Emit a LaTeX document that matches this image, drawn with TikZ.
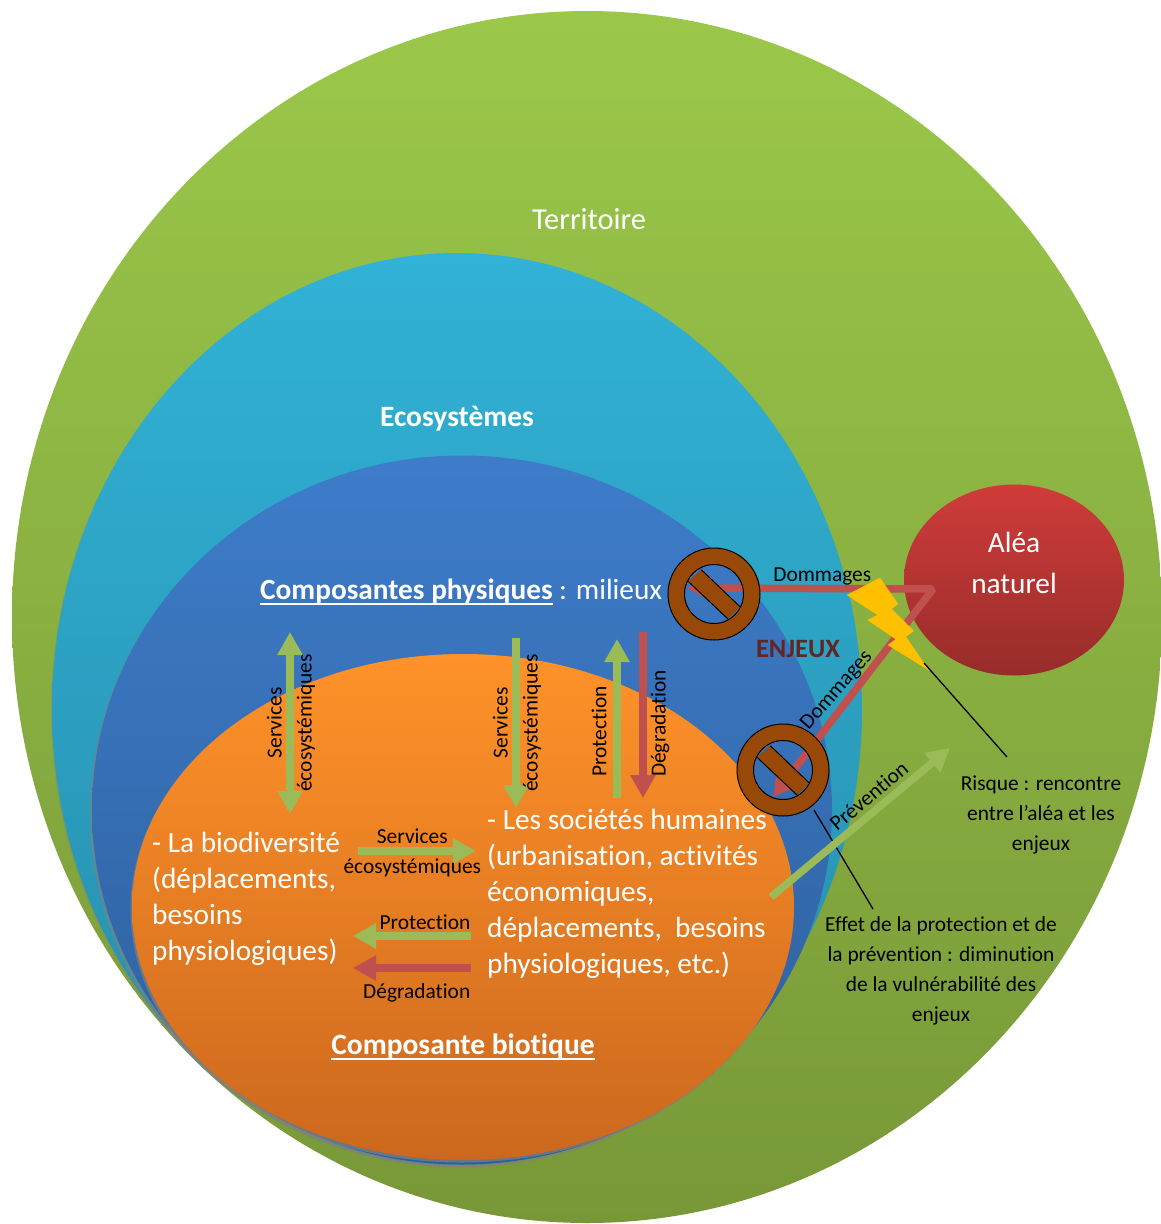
\documentclass[tikz,border=0pt]{standalone}
\usepackage{fontspec}
\setmainfont{Carlito}[Ligatures=CommonOff]
\usetikzlibrary{arrows.meta,shapes.geometric,shadows}
\definecolor{flechevert}{HTML}{9BBB59}
\definecolor{flecherouge}{HTML}{C0504D}
\definecolor{signebrun}{HTML}{984807}
\definecolor{eclair}{HTML}{FFC000}
\definecolor{titreenjeux}{HTML}{632523}
\definecolor{terrehaut}{RGB}{155,200,74}
\definecolor{terrebas}{RGB}{120,152,56}
\definecolor{ecohaut}{RGB}{49,178,214}
\definecolor{ecobas}{RGB}{38,140,170}
\definecolor{physhaut}{RGB}{62,124,202}
\definecolor{physbas}{RGB}{45,95,155}
\definecolor{biohaut}{RGB}{255,146,41}
\definecolor{biobas}{RGB}{204,104,30}
\definecolor{aleahaut}{RGB}{208,60,58}
\definecolor{aleabas}{RGB}{150,44,42}
\newcommand{\souligne}[1]{\setbox0\hbox{#1}\rlap{\rule[-5.5pt]{\wd0}{2.4pt}}\box0}
\tikzset{
bulle/.style={ellipse,inner sep=0pt,minimum width=2*#1},
grand/.style={text=white,inner sep=0pt,font=\fontsize{29.3}{36}\selectfont},
gras/.style={text=white,inner sep=0pt,font=\fontsize{29.5}{36}\selectfont\bfseries},
petit/.style={text=black,inner sep=0pt,align=center,font=\fontsize{21.4}{30}\selectfont},
vert/.style={draw=flechevert,line width=7.5pt},
rouge/.style={draw=flecherouge,line width=7.5pt},
interdit/.pic={
\fill[signebrun,draw=black,line width=1pt,even odd rule](0,0)circle(46)(0,0)circle(29.5);
\fill[signebrun](-26,-12.7)--(14,25)--(26.3,13)--(-12.7,-24.3)--cycle;
\draw[black,line width=1pt](-26,-12.7)--(14,25)(-12.7,-24.3)--(26.3,13);
}
}
\begin{document}
\begin{tikzpicture}[x=1pt,y=-1pt,>={Triangle[length=23pt,width=24pt]}]
\useasboundingbox (0,0) rectangle (1161,1224);
\node[bulle=575,minimum height=1212,top color=terrehaut,bottom color=terrebas] (territoire) at (587,617) {};
\node[bulle=405,minimum height=912,top color=ecohaut,bottom color=ecobas,drop shadow={shadow xshift=-1pt,shadow yshift=-2pt,opacity=.3}] (ecosystemes) at (457,709) {};
\node[bulle=370,minimum height=709,top color=physhaut,bottom color=physbas,drop shadow={shadow xshift=-2pt,shadow yshift=-3pt,opacity=.6}] (physique) at (462,810) {};
\node[bulle=331,minimum height=506,top color=biohaut,bottom color=biobas,drop shadow={shadow xshift=-1.5pt,shadow yshift=-2.5pt,opacity=.7}] (biotique) at (463,907) {};
\node[bulle=110,minimum height=191,top color=aleahaut,bottom color=aleabas] (alea) at (1014,580) {};
\coordinate (sa) at (290,632);
\coordinate (sb) at (290,814);
\coordinate (sc) at (516,638);
\coordinate (sd) at (516,808);
\coordinate (pa) at (617,798);
\coordinate (pb) at (617,639);
\coordinate (da) at (643,632);
\coordinate (db) at (643,798);
\coordinate (se) at (358,851);
\coordinate (sf) at (476,851);
\coordinate (pc) at (471,936);
\coordinate (pd) at (353,936);
\coordinate (dc) at (471,968);
\coordinate (dd) at (353,968);
\coordinate (dm) at (687,588);
\coordinate (dn) at (933,589);
\coordinate (dp) at (773,797);
\coordinate (pv) at (771,897);
\coordinate (pw) at (950,748);
\coordinate (ra) at (924,663);
\coordinate (rb) at (1007,757);
\coordinate (ea) at (814,810);
\coordinate (eb) at (873,909);
\draw[<->,vert](sa)--(sb)node[petit,pos=0.5,xshift=1pt,rotate=90]{Services\\écosystémiques};
\draw[->,vert](sc)--(sd)node[petit,pos=0.5,xshift=1pt,rotate=90]{Services\\écosystémiques};
\draw[->,vert](pa)--(pb)node[petit,pos=0.42,xshift=-18pt,rotate=90]{Protection};
\draw[->,rouge](da)--(db)node[petit,pos=0.55,xshift=17pt,rotate=90]{Dégradation};
\draw[->,vert](se)--(sf)node[petit,pos=0.46,yshift=-2pt]{Services\\écosystémiques};
\draw[->,vert](pc)--(pd)node[petit,pos=0.39,yshift=14pt]{Protection};
\draw[->,rouge](dc)--(dd)node[petit,pos=0.46,yshift=-25pt]{Dégradation};
\draw[black,line width=1.3pt](ea)--(eb);
\draw[->,vert](pv)--(pw)node[petit,pos=0.6,above=4pt,sloped]{Prévention};
\draw[<->,rouge,line join=bevel](dm)--node[petit,pos=0.55,above=0pt]{Dommages}(dn)--node[petit,pos=0.5,xshift=-16pt,yshift=2.4pt,rotate=49]{Dommages}(dp);
\pic at (714,594) {interdit};
\pic at (783,770) {interdit};
\fill[eclair](846.7,595)--(880,577.7)--(898.3,604)--(891.7,608.7)--(914,631)--(906,636.7)--(929.3,670.7)--(887.7,645)--(895.7,639.3)--(867.3,620)--(877.3,615)--cycle;
\draw[black,line width=1.3pt](ra)--(rb);
\node[grand,font=\fontsize{30.5}{36}\selectfont] (ltitre) at (589,219) {Territoire};
\node[gras] (letitre) at (457,419) {Ecosystèmes};
\node[grand,anchor=west] (lphysique) at (260,592) {\textbf{\souligne{Composantes physiques}} : milieux};
\node[gras] (lbiotique) at (463,1047) {\souligne{Composante biotique}};
\node[grand,anchor=west,align=left] (lbiodiv) at (152,899) {- La biodiversité\\(déplacements,\\besoins\\physiologiques)};
\node[grand,anchor=west,align=left] (lsociete) at (487,894) {- Les sociétés humaines\\(urbanisation, activités\\économiques,\\déplacements,\ \ besoins\\physiologiques, etc.)};
\node[grand,align=center,font=\fontsize{29.3}{41}\selectfont] (lalea) at (1014,563) {Aléa\\naturel};
\node[inner sep=0pt,text=titreenjeux,font=\fontsize{26.5}{30}\selectfont\bfseries] (lenjeux) at (798,649) {ENJEUX};
\node[petit] (lrisque) at (1041,815) {Risque : rencontre\\entre l’aléa et les\\enjeux};
\node[petit] (leffet) at (941,971) {Effet de la protection et de\\la prévention : diminution\\de la vulnérabilité des\\enjeux};
\end{tikzpicture}
\end{document}
